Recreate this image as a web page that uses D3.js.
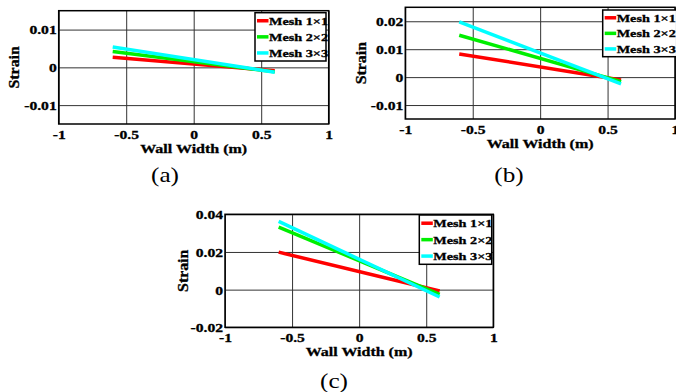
<!DOCTYPE html>
<html>
<head>
  <script src="https://d3js.org/d3.v7.min.js"></script>
  <style>
    body { margin: 0; background: #fff; }
    svg text { font-family: "Liberation Serif", "Times New Roman", serif; }
    .tick text, .lbl, .leg { font-weight: bold; fill: #000; stroke: #000; stroke-width: 0.3; }
    .grid line { stroke: #333; stroke-width: 1; }
    .grid path { display: none; }
  </style>
</head>
<body>
  <svg width="676" height="392"></svg>

  <script>
    const xVals = [-0.6, 0.6];
    const xTicks = [-1, -0.5, 0, 0.5, 1];
    const seriesNames = ['Mesh 1\u00d71', 'Mesh 2\u00d72', 'Mesh 3\u00d73'];
    const colors = ['#ff0000', '#00ee00', '#00ffff'];

    // strain at x = -0.6 and x = 0.6 for each mesh
    const strainA = [[0.0027, -0.0009], [0.0042, -0.0012], [0.0054, -0.0013]];
    const strainB = [[0.0083, -0.0010], [0.0150, -0.0016], [0.0198, -0.0024]];
    const strainC = [[0.0199, -0.0007], [0.0332, -0.0025], [0.0362, -0.0039]];

    const yTicksA = [-0.01, 0, 0.01];
    const yTicksB = [-0.01, 0, 0.01, 0.02];
    const yTicksC = [-0.02, 0, 0.02, 0.04];

    const panels = [
      { data: strainA, yTicks: yTicksA, yDomain: [-0.015, 0.015], caption: '(a)',
        box: [58.7, 10.7, 328.7, 124], leg: [255, 12.7, 71, 48.3], strainX: 19, capX: 165, capY: 182, labY: 152.5 },
      { data: strainB, yTicks: yTicksB, yDomain: [-0.015, 0.025], caption: '(b)',
        box: [405.3, 7.3, 675, 119], leg: [602.7, 10, 74, 46.7], strainX: 366, capX: 509, capY: 182, labY: 148 },
      { data: strainC, yTicks: yTicksC, yDomain: [-0.02, 0.04], caption: '(c)',
        box: [225, 214.3, 493.3, 327.3], leg: [419.3, 215, 72.4, 49.3], strainX: 188, capX: 334, capY: 388, labY: 356 }
    ];

    const sx = 1.25;
    const svg = d3.select('svg');

    panels.forEach(p => {
      const [x0, y0, x1, y1] = p.box;
      const w = x1 - x0, h = y1 - y0;
      const x = d3.scaleLinear().domain([-1, 1]).range([x0, x1]);
      const y = d3.scaleLinear().domain(p.yDomain).range([y1, y0]);

      // grid
      svg.append('g').attr('class', 'grid')
        .attr('transform', `translate(0,${y0})`)
        .call(d3.axisBottom(x).tickValues(xTicks).tickSize(h).tickFormat(''));
      svg.append('g').attr('class', 'grid')
        .attr('transform', `translate(${x0},0)`)
        .call(d3.axisRight(y).tickValues(p.yTicks).tickSize(w).tickFormat(''));

      // lines
      const line = d3.line().x((d, i) => x(xVals[i])).y(d => y(d));
      p.data.forEach((s, i) => {
        svg.append('path').datum(s)
          .attr('d', line)
          .attr('fill', 'none')
          .attr('stroke', colors[i])
          .attr('stroke-width', 3.5);
      });

      // box
      svg.append('rect')
        .attr('x', x0).attr('y', y0).attr('width', w).attr('height', h)
        .attr('fill', 'none').attr('stroke', '#000').attr('stroke-width', 1.5);

      // axes labels
      const ax = svg.append('g').attr('transform', `translate(0,${y1})`)
        .call(d3.axisBottom(x).tickValues(xTicks).tickSize(0).tickFormat(d => String(d)));
      ax.select('.domain').remove();
      ax.selectAll('.tick text')
        .attr('y', 15).attr('dy', 0)
        .attr('font-size', 12.5)
        .attr('transform', `scale(${sx},1)`);

      const ay = svg.append('g').attr('transform', `translate(${x0},0)`)
        .call(d3.axisLeft(y).tickValues(p.yTicks).tickSize(0).tickFormat(d => String(d)));
      ay.select('.domain').remove();
      ay.selectAll('.tick text')
        .attr('x', -1.6).attr('dy', '0.35em')
        .attr('font-size', 12.5)
        .attr('transform', `scale(${sx},1)`);

      svg.append('text').attr('class', 'lbl')
        .attr('text-anchor', 'middle').attr('font-size', 12.8)
        .attr('transform', `translate(${(x0 + x1) / 2},${p.labY}) scale(${sx},1)`)
        .text('Wall Width (m)');

      svg.append('text').attr('class', 'lbl')
        .attr('text-anchor', 'middle').attr('font-size', 13)
        .attr('transform', `translate(${p.strainX},${(y0 + y1) / 2}) rotate(-90) scale(1.22,1.1)`)
        .text('Strain');

      svg.append('text')
        .attr('text-anchor', 'middle').attr('font-size', 21)
        .attr('transform', `translate(${p.capX},${p.capY}) scale(1.2,1)`)
        .text(p.caption);

      // legend
      const [lx, ly, lw, lh] = p.leg;
      svg.append('rect')
        .attr('x', lx).attr('y', ly).attr('width', lw).attr('height', lh)
        .attr('fill', '#fff').attr('stroke', '#000').attr('stroke-width', 1.5);
      const rowH = lh / 3;
      seriesNames.forEach((name, i) => {
        const cy = ly + rowH * (i + 0.5);
        svg.append('line')
          .attr('x1', lx + 2).attr('x2', lx + 13.5)
          .attr('y1', cy).attr('y2', cy)
          .attr('stroke', colors[i]).attr('stroke-width', 3.5);
        svg.append('text').attr('class', 'leg')
          .attr('font-size', 11.2).attr('dy', '0.35em')
          .attr('transform', `translate(${lx + 14},${cy}) scale(1.27,1)`)
          .text(name);
      });
    });
  </script>
</body>
</html>
